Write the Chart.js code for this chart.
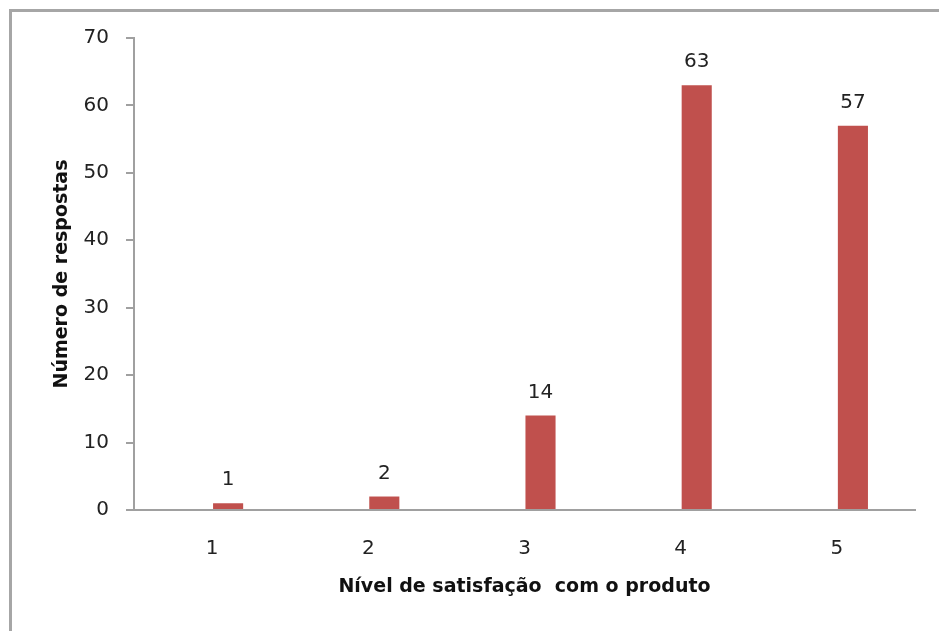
<!DOCTYPE html>
<html lang="pt">
<head>
    <meta charset="UTF-8">
    <title>Nível de satisfação com o produto</title>
    <script src="https://cdn.jsdelivr.net/npm/chart.js"></script>
    <style>
        body {
            margin: 0;
            background: #fff;
            overflow: hidden;
        }
        canvas {
            display: block;
        }
    </style>
</head>
<body>
    <canvas id="chart" width="939" height="631"></canvas>

    <script>
        // data
        const categories = ['1', '2', '3', '4', '5'];
        const respostas = [1, 2, 14, 63, 57];
        const emptySeries = [null, null, null, null, null]; // Excel left an empty slot before each bar
        const yTicks = [0, 10, 20, 30, 40, 50, 60, 70];

        const axisGray = '#a0a0a0';
        const textColor = '#222';

        // outer chart frame: only the top and left edges fall inside the picture
        const frame = {
            id: 'frame',
            beforeDraw(chart) {
                const ctx = chart.ctx;
                ctx.save();
                ctx.fillStyle = '#fff';
                ctx.fillRect(0, 0, chart.width, chart.height);
                ctx.fillStyle = '#a6a6a6';
                ctx.fillRect(9, 9, 3, chart.height - 9);
                ctx.fillRect(9, 9, chart.width - 9, 3);
                ctx.restore();
            },
            afterDraw(chart) {
                // keep the right margin clean
                const ctx = chart.ctx;
                ctx.save();
                ctx.fillStyle = '#fff';
                ctx.fillRect(chart.width - 12, 14, 12, chart.height - 14);
                ctx.restore();
            }
        };

        // value labels above the bars
        const barLabels = {
            id: 'barLabels',
            afterDatasetsDraw(chart) {
                const ctx = chart.ctx;
                const meta = chart.getDatasetMeta(1);
                ctx.save();
                ctx.font = '20px "DejaVu Sans"';
                ctx.fillStyle = textColor;
                ctx.textAlign = 'center';
                ctx.textBaseline = 'alphabetic';
                meta.data.forEach((bar, i) => {
                    ctx.fillText(String(respostas[i]), bar.x, bar.y - 18);
                });
                ctx.restore();
            }
        };

        new Chart(document.getElementById('chart'), {
            type: 'bar',
            data: {
                labels: categories,
                datasets: [
                    {
                        label: '',
                        data: emptySeries,
                        backgroundColor: '#c0504d'
                    },
                    {
                        label: 'Número de respostas',
                        data: respostas,
                        backgroundColor: '#c0504d'
                    }
                ]
            },
            options: {
                responsive: false,
                animation: false,
                datasets: {
                    bar: { categoryPercentage: 0.41, barPercentage: 0.94 }
                },
                layout: {
                    padding: { top: 38, right: 24, bottom: 0, left: 0 }
                },
                plugins: {
                    legend: { display: false },
                    tooltip: { enabled: false }
                },
                scales: {
                    x: {
                        grid: { drawOnChartArea: false, drawTicks: false },
                        border: { color: axisGray, width: 2 },
                        ticks: {
                            color: textColor,
                            font: { family: 'DejaVu Sans', size: 20 },
                            padding: 27
                        },
                        title: {
                            display: true,
                            text: 'Nível de satisfação  com o produto',
                            color: '#111',
                            font: { family: 'DejaVu Sans', size: 19, weight: 'bold' },
                            padding: { top: 0, bottom: 33 }
                        },
                        afterFit(scale) { scale.height = 121; }
                    },
                    y: {
                        min: 0,
                        max: 70,
                        afterBuildTicks(scale) {
                            scale.ticks = yTicks.map(v => ({ value: v }));
                        },
                        grid: {
                            drawOnChartArea: false,
                            drawTicks: true,
                            tickLength: 8,
                            color: axisGray,
                            lineWidth: 2
                        },
                        border: { color: axisGray, width: 2 },
                        ticks: {
                            color: textColor,
                            font: { family: 'DejaVu Sans', size: 20 },
                            padding: 17
                        },
                        title: {
                            display: true,
                            text: 'Número de respostas',
                            color: '#111',
                            font: { family: 'DejaVu Sans', size: 19, weight: 'bold' },
                            padding: { top: 51, bottom: 0 }
                        },
                        afterFit(scale) { scale.width = 134; }
                    }
                }
            },
            plugins: [frame, barLabels]
        });
    </script>
</body>
</html>
